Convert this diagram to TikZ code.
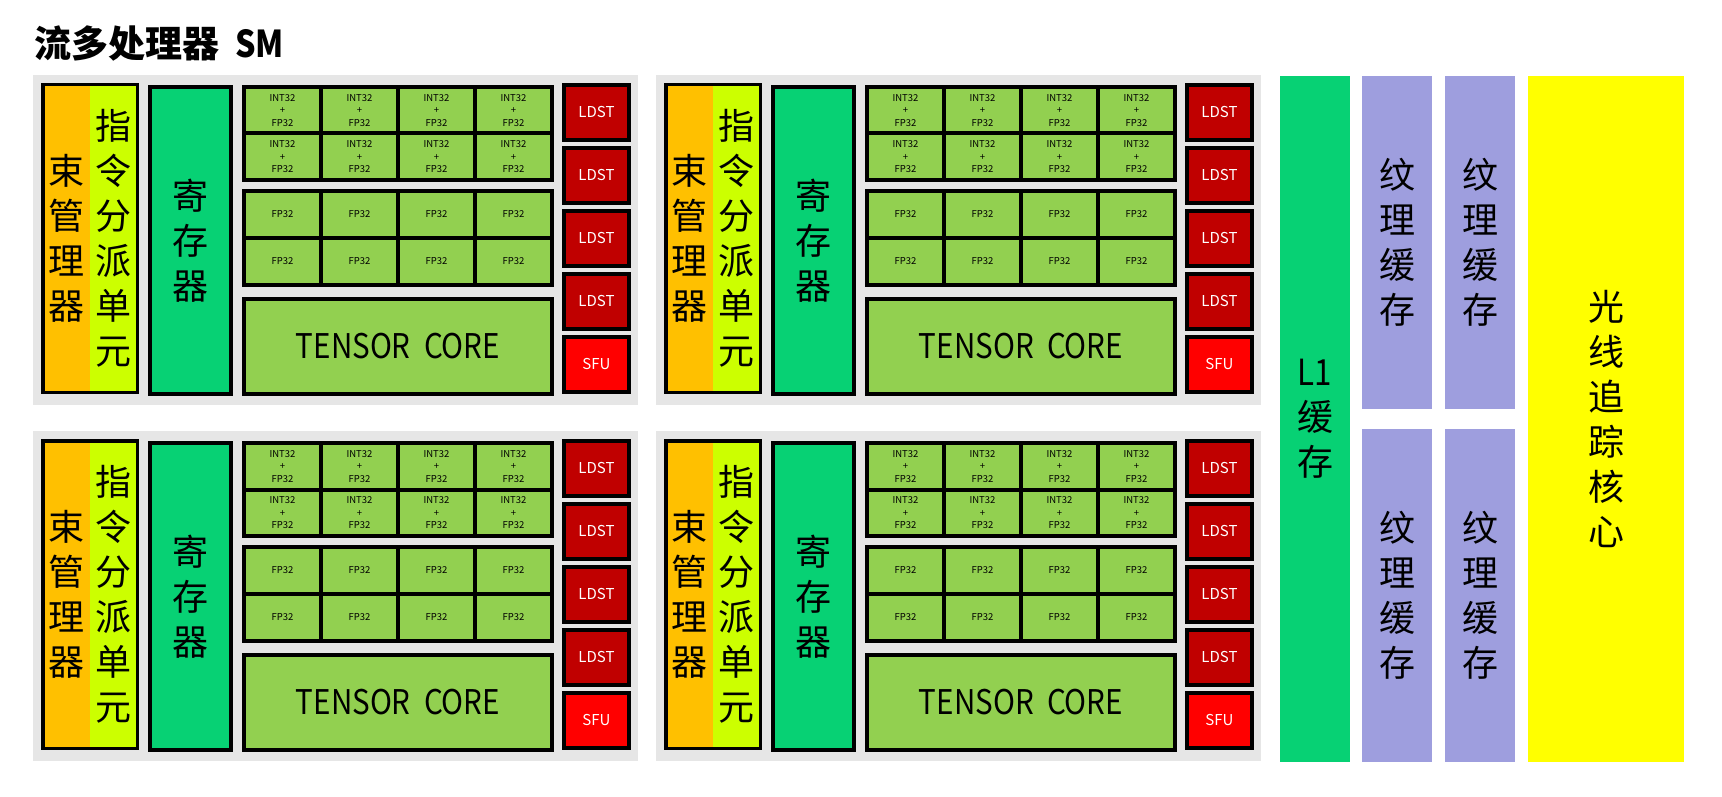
\documentclass[tikz,border=0pt]{standalone}
\usepackage{fontspec}
\setmainfont{Noto Sans CJK SC}
\newfontfamily\narrowfont[FakeStretch=0.87]{Noto Sans CJK SC}
\usetikzlibrary{positioning}
\definecolor{ink}{HTML}{000000}
\definecolor{panel}{HTML}{E6E6E6}
\definecolor{warp}{HTML}{FFC000}
\definecolor{dispatch}{HTML}{CCFF00}
\definecolor{reggreen}{HTML}{07D174}
\definecolor{cellgreen}{HTML}{92D050}
\definecolor{ldstred}{HTML}{C00000}
\definecolor{sfured}{HTML}{FF0000}
\definecolor{texblue}{HTML}{9E9EDE}
\definecolor{rayyellow}{HTML}{FFFF00}
\newcommand\bigcjk{\fontsize{36}{45}\selectfont}
\newcommand\tinyunit{\fontsize{9.5}{12.5}\selectfont}
\tikzset{
  panelbox/.style={fill=panel,inner sep=0pt,outer sep=0pt},
  bar/.style={fill=#1,inner sep=0pt,outer sep=0pt,align=center,font=\bigcjk,text=ink},
  unit/.style={draw=ink,line width=4pt,fill=#1,inner sep=0pt,outer sep=0pt,align=center,text=ink},
  cell/.style={unit=cellgreen,minimum width=77pt,font=\tinyunit},
  ldst/.style={unit=#1,minimum width=65pt,minimum height=54.7pt,font=\fontsize{15}{18}\selectfont,text=white},
  titletext/.style={inner sep=0pt,font=\bfseries\fontsize{37}{40}\selectfont,text=ink},
  smpart/.pic={
    \node[panelbox,minimum width=605pt,minimum height=330pt] (-bg) at (302.5,165) {};
    \node[bar=warp,minimum width=47.25pt,minimum height=307.5pt] (-warp) at (33.375,163.5) {束\\管\\理\\器};
    \node[bar=dispatch,minimum width=47.25pt,minimum height=307.5pt] (-dispatch) at (80.625,163.5) {指\\令\\分\\派\\单\\元};
    \draw[draw=ink,line width=3.5pt] (-warp.north west) rectangle (-dispatch.south east);
    \node[unit=reggreen,minimum width=81pt,minimum height=307pt,font=\bigcjk] (-reg) at (157.5,165.5) {寄\\存\\器};
    % INT32 + FP32 block
    \foreach \r in {0,1}
      \foreach \c in {0,...,3}
        \node[cell,minimum height=46.5pt] (-mix\r\c) at ({249.5+77*\c},{35.25+46.5*\r}) {INT32\\+\\FP32};
    % FP32 block
    \foreach \r in {0,1}
      \foreach \c in {0,...,3}
        \node[cell,minimum height=47pt] (-fp\r\c) at ({249.5+77*\c},{139.5+47*\r}) {FP32};
    \node[unit=cellgreen,minimum width=308pt,minimum height=95pt,font=\narrowfont\fontsize{34}{40}\selectfont] (-tensor) at (365,271.5) {TENSOR\ \ CORE};
    \foreach \k in {0,...,3}
      \node[ldst=ldstred] (-ldst\k) at (563.5,{37.35+63*\k}) {LDST};
    \node[ldst=sfured] (-sfu) at (563.5,289.35) {SFU};
  }
}

\begin{document}
\begin{tikzpicture}[x=1pt,y=-1pt]
  \useasboundingbox (0,0) rectangle (1722,797);
  \fill[white] (0,0) rectangle (1722,797);

  \node[titletext,anchor=west] (title) at (34,43.5) {流多处理器\hspace{16pt}{\narrowfont SM}};

  \pic (sp1) at (33,75) {smpart};
  \pic (sp2) at (656,75) {smpart};
  \pic (sp3) at (33,431) {smpart};
  \pic (sp4) at (656,431) {smpart};

  \node[bar=reggreen,minimum width=70pt,minimum height=686pt] (l1) at (1315,419) {{\narrowfont L1}\\缓\\存};
  \node[bar=texblue,minimum width=70pt,minimum height=333pt,right=12pt of l1.north east,anchor=north west] (tex1) {纹\\理\\缓\\存};
  \node[bar=texblue,minimum width=70pt,minimum height=333pt,right=13pt of tex1] (tex2) {纹\\理\\缓\\存};
  \node[bar=texblue,minimum width=70pt,minimum height=333pt,below=20pt of tex1] (tex3) {纹\\理\\缓\\存};
  \node[bar=texblue,minimum width=70pt,minimum height=333pt,below=20pt of tex2] (tex4) {纹\\理\\缓\\存};
  \node[bar=rayyellow,minimum width=156pt,minimum height=686pt,right=13pt of tex2.north east,anchor=north west] (ray) {光\\线\\追\\踪\\核\\心};
\end{tikzpicture}
\end{document}
